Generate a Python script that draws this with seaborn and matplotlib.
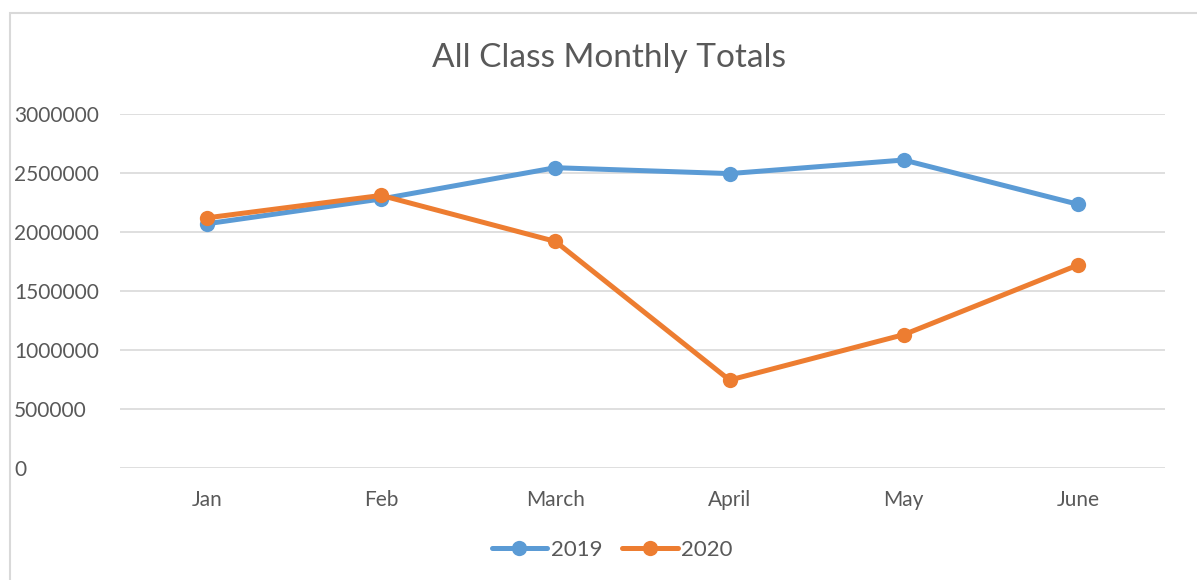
import numpy as np
import pandas as pd
import matplotlib
matplotlib.use("Agg")
import matplotlib.pyplot as plt
import seaborn as sns
from matplotlib.patches import Rectangle

months = ["Jan", "Feb", "March", "April", "May", "June"]
sales_2019 = [2070000, 2280000, 2545000, 2495000, 2610000, 2235000]
sales_2020 = [2120000, 2310000, 1920000, 745000, 1130000, 1720000]

df = pd.DataFrame({
    "month": months * 2,
    "total": sales_2019 + sales_2020,
    "year": ["2019"] * 6 + ["2020"] * 6,
})

sns.set_style("white")
plt.rcParams["font.family"] = ["Lato", "DejaVu Sans"]
text_col = "#595959"

fig = plt.figure(figsize=(11.97, 5.80), dpi=100)
ax = fig.add_axes([120 / 1197, 1 - 468 / 580, (1165 - 120) / 1197, (468 - 114) / 580])

sns.lineplot(data=df, x="month", y="total", hue="year",
             palette={"2019": "#5B9BD5", "2020": "#ED7D31"},
             marker="o", markersize=11, markeredgewidth=0,
             linewidth=3.6, sort=False, ax=ax, zorder=3)

ax.set_xlim(-0.5, 5.5)
ax.set_ylim(0, 3000000)
ax.set_yticks(np.arange(0, 3000001, 500000))
ax.set_yticklabels([str(v) for v in range(0, 3000001, 500000)])
ax.grid(axis="y", color="#D9D9D9", linewidth=1.2)
ax.grid(axis="x", visible=False)
for s in ax.spines.values():
    s.set_visible(False)
ax.tick_params(axis="both", length=0, labelsize=15, labelcolor=text_col)
ax.tick_params(axis="x", pad=16)
ax.set_xlabel("")
ax.set_ylabel("")
for lbl in ax.get_yticklabels():
    lbl.set_horizontalalignment("left")
    lbl.set_x(-106 / 1045)
ax.tick_params(axis="y", pad=0)

fig.text(609 / 1197, 1 - 58 / 580, "All Class Monthly Totals", ha="center", va="center",
         fontsize=24, color=text_col)

handles, labels = ax.get_legend_handles_labels()
ax.legend(handles, labels, loc="center", bbox_to_anchor=((612 - 120) / 1045, (468 - 550) / 354),
          ncol=2, frameon=False, fontsize=16, labelcolor=text_col,
          handlelength=2.5, columnspacing=0.9, handletextpad=0.15)

fig.patches.append(Rectangle((10 / 1197, -0.1), 1.2, 1 - 13 / 580 + 0.1,
                             transform=fig.transFigure, fill=False,
                             edgecolor="#D9D9D9", linewidth=1.5))

fig.savefig("out.png", dpi=100)
